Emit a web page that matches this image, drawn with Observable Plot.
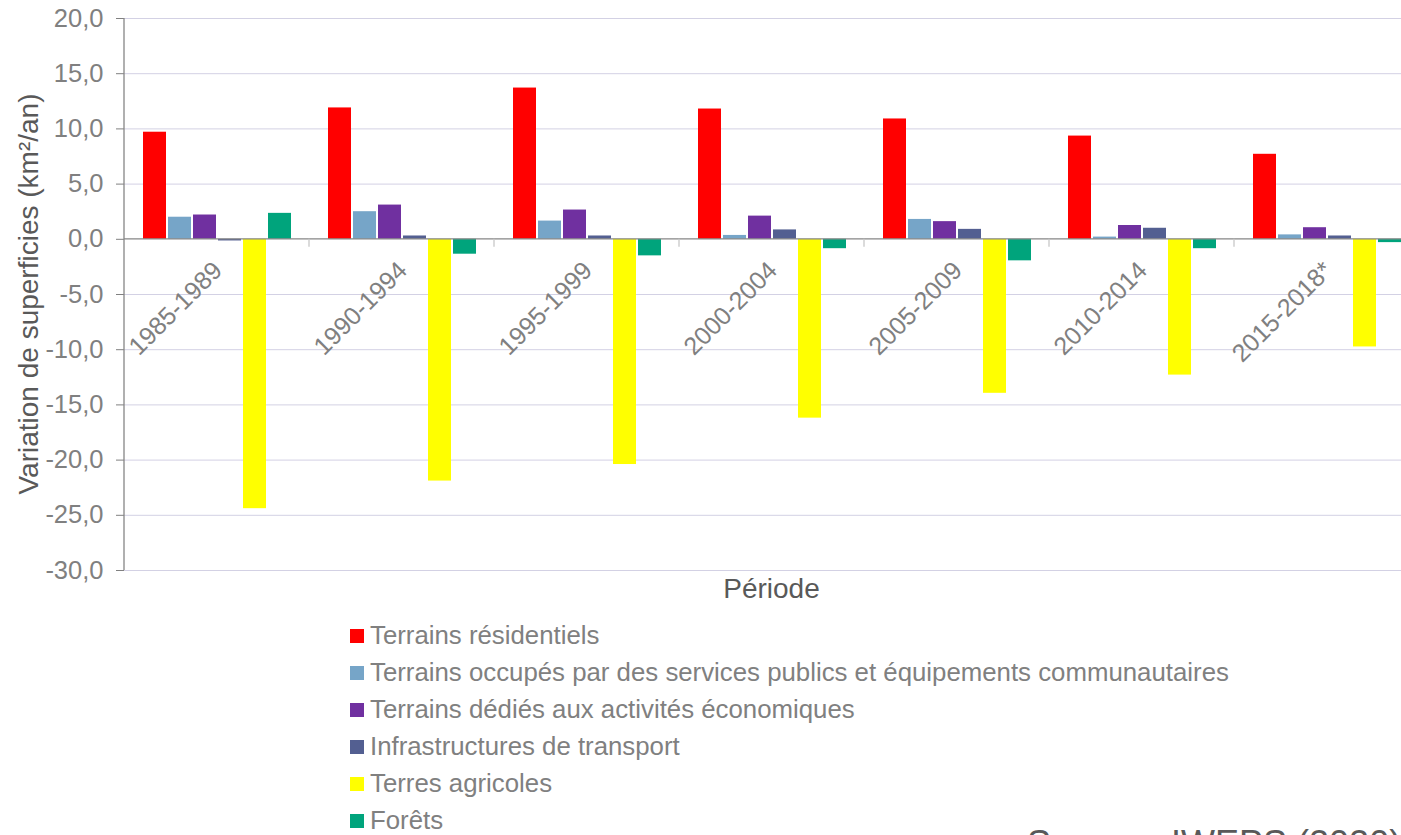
<!DOCTYPE html>
<html>
<head>
<meta charset="utf-8">
<script src="https://cdn.jsdelivr.net/npm/d3@7"></script>
<script src="https://cdn.jsdelivr.net/npm/@observablehq/plot@0.6"></script>
<style>
  html, body { margin: 0; padding: 0; background: #fff; overflow: hidden; }
  #wrap { position: relative; width: 1401px; height: 835px; overflow: hidden; background: #fff;
          font-family: "Liberation Sans", Arial, sans-serif; }
  #chart svg { display: block; max-width: none !important; }
  #legend { position: absolute; left: 350px; top: 617px; }
  .row { display: flex; align-items: center; height: 37px; font-size: 25.8px; color: #808080; white-space: nowrap; }
  .sw { width: 14px; height: 14px; margin-right: 6px; flex: none; }
  #source { position: absolute; left: 1027px; top: 826px; font-size: 36px; line-height: 1; color: #595959; white-space: nowrap; }
</style>
</head>
<body>
<div id="wrap">
  <div id="chart"></div>
  <div id="legend"></div>
  <div id="source">Source : IWEPS (2020)</div>
</div>
<script>
const periods = ["1985-1989", "1990-1994", "1995-1999", "2000-2004", "2005-2009", "2010-2014", "2015-2018*"];
const seriesNames = [
  "Terrains résidentiels",
  "Terrains occupés par des services publics et équipements communautaires",
  "Terrains dédiés aux activités économiques",
  "Infrastructures de transport",
  "Terres agricoles",
  "Forêts"
];
const seriesColors = ["#ff0000", "#76a5c8", "#7030a0", "#535f91", "#ffff00", "#00a47c"];
const residentiels     = [9.7, 11.9, 13.7, 11.8, 10.9, 9.35, 7.7];
const servicesPublics  = [2.0, 2.5, 1.65, 0.35, 1.8, 0.2, 0.4];
const activitesEco     = [2.2, 3.1, 2.65, 2.1, 1.6, 1.25, 1.05];
const transport        = [-0.15, 0.3, 0.3, 0.85, 0.9, 1.0, 0.3];
const agricoles        = [-24.4, -21.9, -20.4, -16.2, -13.95, -12.3, -9.75];
const forets           = [2.35, -1.35, -1.5, -0.85, -1.95, -0.85, -0.3];
const yTicks = [-30, -25, -20, -15, -10, -5, 0, 5, 10, 15, 20];

const seriesValues = [residentiels, servicesPublics, activitesEco, transport, agricoles, forets];
const data = [];
periods.forEach((p, i) => {
  seriesNames.forEach((s, j) => data.push({period: p, series: s, value: seriesValues[j][i]}));
});

const fmt = d => d.toFixed(1).replace(".", ",");
const labelColor = "#808080";
const titleColor = "#595959";
const axisColor = "#868686";

const chart = Plot.plot({
  width: 1430,
  height: 605,
  marginLeft: 124,
  marginRight: 11,
  marginTop: 18,
  marginBottom: 35,
  style: {fontFamily: "'Liberation Sans', Arial, sans-serif", background: "white", overflow: "visible", maxWidth: "none"},
  fx: {domain: periods, padding: 0, axis: null},
  x: {domain: seriesNames, paddingInner: 0.09, paddingOuter: 0.71, axis: null},
  y: {domain: [-30, 20], axis: null},
  color: {domain: seriesNames, range: seriesColors},
  marks: [
    Plot.gridY(yTicks.filter(d => d !== 0), {stroke: "#d3d1e4", strokeOpacity: 1, strokeWidth: 1}),
    Plot.barY(data, {fx: "period", x: "series", y: "value", fill: "series"}),
    Plot.axisY({ticks: yTicks, tickFormat: fmt, tickSize: 8, tickPadding: 13, fontSize: 25.5, color: labelColor, label: null}),
    Plot.text(periods, {fx: d => d, y: () => 0, text: d => d, rotate: -45, textAnchor: "end",
      dx: 1, dy: 27, fontSize: 25, fill: labelColor})
  ]
});

document.getElementById("chart").appendChild(chart);

// axis lines drawn from the library's scales
const fxS = chart.scale("fx");
const yS = chart.scale("y");
const svg = d3.select(chart);
const x0 = fxS.apply(periods[0]);
const xEnd = fxS.apply(periods[periods.length - 1]) + fxS.bandwidth;
const yTop = yS.apply(20), yBot = yS.apply(-30), yZero = yS.apply(0);
const g = svg.append("g").attr("stroke", axisColor).attr("stroke-width", 1.3);
g.append("line").attr("x1", x0).attr("x2", x0).attr("y1", yTop).attr("y2", yBot);
g.append("line").attr("x1", x0).attr("x2", xEnd).attr("y1", yZero).attr("y2", yZero);
periods.forEach((p, i) => {
  const xx = fxS.apply(p);
  if (i > 0) g.append("line").attr("x1", xx).attr("x2", xx).attr("y1", yZero).attr("y2", yZero + 8).attr("stroke", "#c8c8c8");
});
g.append("line").attr("x1", xEnd).attr("x2", xEnd).attr("y1", yZero).attr("y2", yZero + 8).attr("stroke", "#c8c8c8");

svg.append("text")
  .attr("x", (x0 + xEnd) / 2).attr("y", 591)
  .attr("text-anchor", "middle").attr("dominant-baseline", "middle")
  .attr("fill", titleColor).attr("font-size", 28)
  .text("Période");

svg.append("text")
  .attr("transform", `translate(31,${(yTop + yBot) / 2}) rotate(-90)`)
  .attr("text-anchor", "middle").attr("dominant-baseline", "middle")
  .attr("fill", titleColor).attr("font-size", 28)
  .text("Variation de superficies (km²/an)");

// legend
const legend = document.getElementById("legend");
seriesNames.forEach((s, j) => {
  const row = document.createElement("div");
  row.className = "row";
  const sw = document.createElement("span");
  sw.className = "sw";
  sw.style.background = seriesColors[j];
  const t = document.createElement("span");
  t.textContent = s;
  row.appendChild(sw);
  row.appendChild(t);
  legend.appendChild(row);
});
</script>
</body>
</html>
